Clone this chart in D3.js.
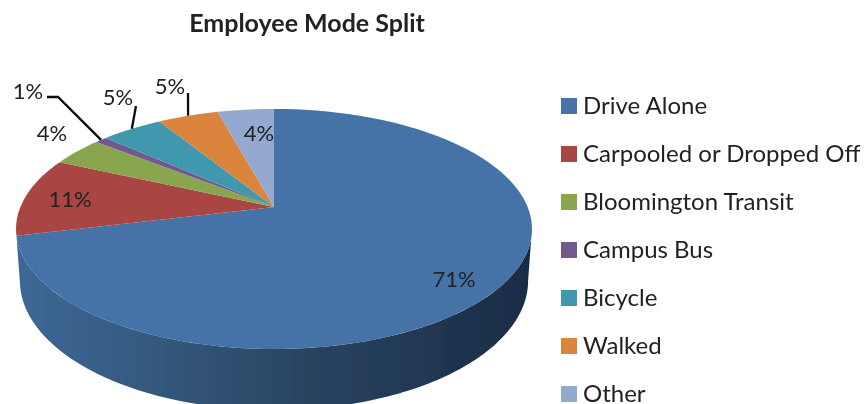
<!doctype html>
<html>
<head>
<meta charset="utf-8">
<style>
    html, body { margin: 0; padding: 0; background: #fff; }
    svg { display: block; }
    text { font-family: Lato, "Open Sans", sans-serif; fill: #222; }
</style>
<script src="https://d3js.org/d3.v7.min.js"></script>
</head>
<body>
<svg width="867" height="404"></svg>
<script>
    // values
    var categories = ["Drive Alone", "Carpooled or Dropped Off", "Bloomington Transit", "Campus Bus", "Bicycle", "Walked", "Other"];
    var shares = [70.9, 10.6, 3.9, 0.9, 4.6, 4.5, 4.2];
    var colours = ["#4572a7", "#a94543", "#89a54e", "#71588f", "#4198af", "#db843d", "#93a9cf"];

    // pixel spot of each % label, in category order
    var labelSpots = [[454, 279], [70, 199], [52, 133], [28, 91], [118, 97], [170, 86], [259, 133]];
    // extra leader elbows (label side first), null = no leader
    var leaders = [null, null, null, [[47, 97], [58, 97]], [[136, 106]], [[188, 93]], null];

    var svg = d3.select("svg");
    var defs = svg.append("defs");

    var soft = defs.append("filter").attr("id", "soft");
    soft.append("feGaussianBlur").attr("stdDeviation", 0.5);

    var wallFill = defs.append("linearGradient").attr("id", "wall")
        .attr("gradientUnits", "userSpaceOnUse")
        .attr("x1", 17).attr("x2", 532).attr("y1", 0).attr("y2", 0);
    wallFill.append("stop").attr("offset", 0).attr("stop-color", "#3d6897");
    wallFill.append("stop").attr("offset", 0.3).attr("stop-color", "#335779");
    wallFill.append("stop").attr("offset", 0.55).attr("stop-color", "#2a4463");
    wallFill.append("stop").attr("offset", 1).attr("stop-color", "#192c45");

    // the pie is tilted with perspective, so the apex is not the ellipse centre
    var apex = [274, 207], rimA = 253.6, rimB = 116, tilt = 0.183, wallDepth = 50, wallNarrow = 0.985;

    function rim(angle) {
        // angle runs clockwise from 12 o'clock, same as d3.pie
        var u = Math.sin(angle), v = Math.cos(angle), w = 1 + tilt * v;
        return [apex[0] + rimA * u / w, apex[1] - rimB * v / w];
    }
    function floor(angle) {
        var u = Math.sin(angle), v = Math.cos(angle), w = 1 + tilt * v;
        return [apex[0] + wallNarrow * rimA * u / w, apex[1] - rimB * v / w + wallDepth / w];
    }
    function sweep(a0, a1) {
        var n = Math.max(2, Math.ceil((a1 - a0) / 0.02));
        var t = d3.scaleLinear().domain([0, n]).range([a0, a1]);
        return d3.range(n + 1).map(t);
    }

    var pie = d3.pie().sort(null).value(function(d) { return d; });
    var arcs = pie(shares);
    var line = d3.line();
    var chart = svg.append("g").attr("filter", "url(#soft)");

    // side wall, only the big slice shows it. starts where the rim is widest
    var first = arcs[0];
    var wallAngles = sweep(Math.PI / 2 + Math.asin(tilt), first.endAngle);
    chart.append("path")
        .attr("d", line(wallAngles.map(rim).concat(wallAngles.slice().reverse().map(floor))) + "Z")
        .attr("fill", "url(#wall)");

    chart.selectAll("path.slice")
        .data(arcs)
        .enter().append("path")
        .attr("class", "slice")
        .attr("fill", function(d, i) { return colours[i]; })
        .attr("d", function(d) {
            return line([apex].concat(sweep(d.startAngle, d.endAngle).map(rim))) + "Z";
        });

    // leader lines end on the rim in the middle of their slice
    arcs.forEach(function(d, i) {
        if (!leaders[i]) return;
        var end = rim((d.startAngle + d.endAngle) / 2);
        chart.append("path")
            .attr("d", line(leaders[i].concat([end])))
            .attr("fill", "none")
            .attr("stroke", "#111")
            .attr("stroke-width", 2.3);
    });

    chart.selectAll("text.pct")
        .data(arcs)
        .enter().append("text")
        .attr("class", "pct")
        .attr("x", function(d, i) { return labelSpots[i][0]; })
        .attr("y", function(d, i) { return labelSpots[i][1]; })
        .attr("dy", "0.35em")
        .attr("text-anchor", "middle")
        .attr("font-size", 22)
        .text(function(d) { return d3.format(".0f")(d.data) + "%"; });

    chart.append("text")
        .attr("x", 307).attr("y", 32)
        .attr("text-anchor", "middle")
        .attr("font-size", 25)
        .attr("font-weight", 700)
        .text("Employee Mode Split");

    // legend
    var rowY = d3.scalePoint().domain(categories).range([106, 394]);
    var rows = chart.selectAll("g.row")
        .data(categories)
        .enter().append("g")
        .attr("class", "row")
        .attr("transform", function(d) { return "translate(561," + rowY(d) + ")"; });
    rows.append("rect")
        .attr("y", -8).attr("width", 16).attr("height", 16)
        .attr("fill", function(d, i) { return colours[i]; });
    rows.append("text")
        .attr("x", 22)
        .attr("dy", "0.33em")
        .attr("font-size", 24)
        .text(function(d) { return d; });
</script>
</body>
</html>
